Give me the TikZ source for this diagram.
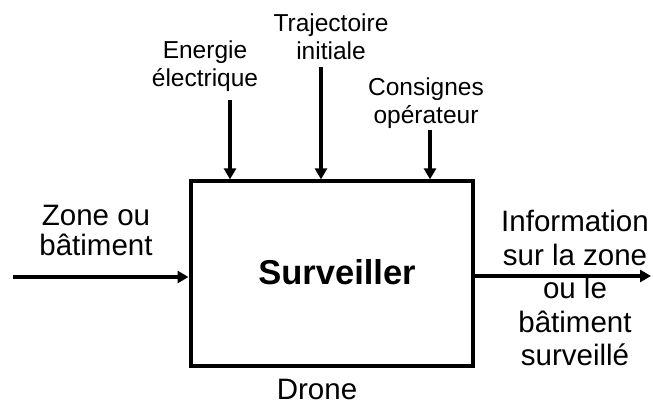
\documentclass[tikz,border=0pt]{standalone}
\usepackage{fontspec}
\setmainfont{Liberation Sans}
\usetikzlibrary{arrows.meta,positioning}

\tikzset{
  flux/.style={line width=3.5pt, -{Triangle[length=11pt,width=12pt]}},
  petit/.style={font=\fontsize{24.5}{28}\selectfont, align=center, inner sep=0pt, anchor=base},
  grand/.style={font=\fontsize{29.5}{33.5}\selectfont, align=center, inner sep=0pt, anchor=base},
}

\begin{document}
\begin{tikzpicture}[x=1pt,y=-1pt]
  \useasboundingbox (0,0) rectangle (653,405);

  % bloc fonction
  \node[draw, line width=4pt, minimum width=282.5pt, minimum height=184.7pt, inner sep=0pt] (bloc) at (331.75,273.7) {};
  \node[font=\bfseries\fontsize{34.5}{36}\selectfont, anchor=base, inner sep=0pt] (fonction) at (337,284) {Surveiller};

  % donnees de controle (base = derniere ligne)
  \node[petit] (energie) at (205,86.7) {Energie\\électrique};
  \node[petit] (trajectoire) at (331,59) {Trajectoire\\initiale};
  \node[petit] (consignes) at (426,123) {Consignes\\opérateur};
  \coordinate (e) at (230,100);
  \coordinate (t) at (321,67);
  \coordinate (c) at (430,130);
  \draw[flux] (e) -- (e |- bloc.north);
  \draw[flux] (t) -- (t |- bloc.north);
  \draw[flux] (c) -- (c |- bloc.north);

  % entree / sortie
  \node[grand, font=\fontsize{29.5}{30}\selectfont] (zone) at (96,255) {Zone ou\\bâtiment};
  \node[grand] (info) at (575,365.5) {Information\\sur la zone\\ou le\\bâtiment\\surveillé};
  \coordinate (zin) at (13,277);
  \coordinate (zout) at (651,276);
  \draw[flux] (zin) -- (zin -| bloc.west);
  \draw[flux] (zout -| bloc.east) -- (zout);

  % support
  \node[grand] (drone) at (317,399.5) {Drone};
\end{tikzpicture}
\end{document}
